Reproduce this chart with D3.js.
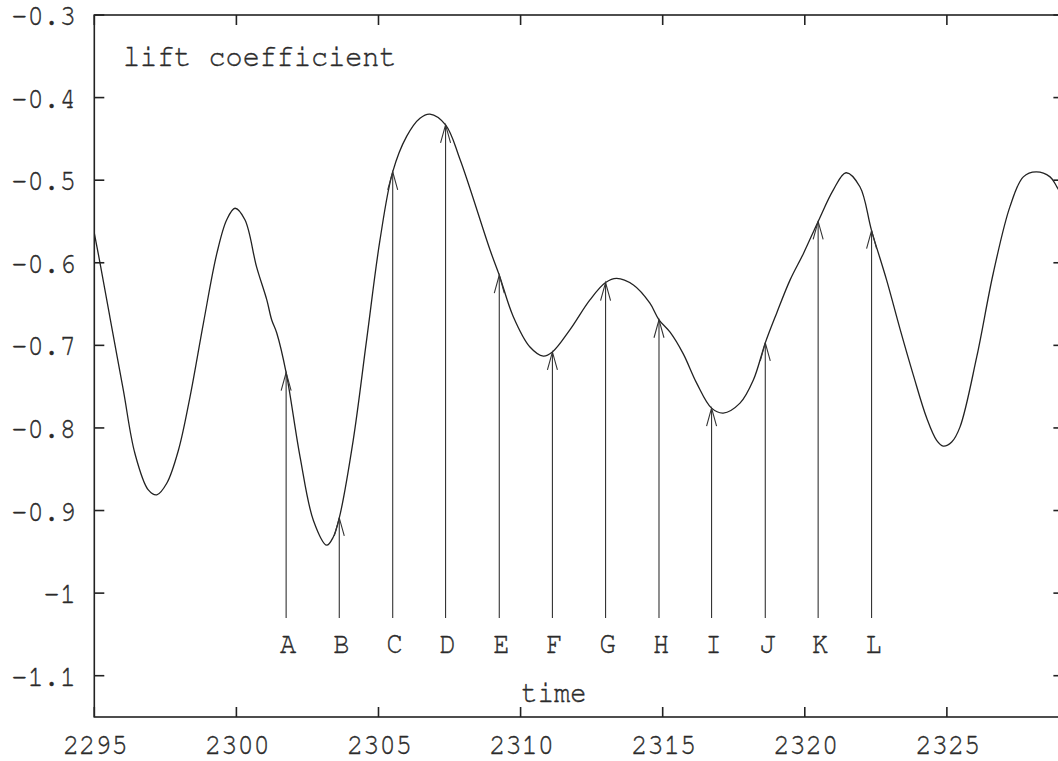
<!DOCTYPE html>
<html>
<head>
<meta charset="utf-8">
<script src="https://cdn.jsdelivr.net/npm/d3@7"></script>
<style>
  html, body { margin: 0; padding: 0; background: #fff; }
  svg { display: block; }
  text {
    font-family: "FreeMono", "Nimbus Mono PS", "Nimbus Mono L", "Courier", "Liberation Mono", monospace;
    fill: #2a2a2a; stroke: #2a2a2a; stroke-width: 0.35;
  }
</style>
</head>
<body>
<script>
// Lift coefficient time history
const curveTime = [
  2295.0, 2295.2, 2295.55, 2296.02, 2296.43, 2296.9, 2297.2, 2297.55, 2297.96, 2298.37,
  2298.84, 2299.31, 2299.66, 2299.95, 2300.3, 2300.71, 2301.07, 2301.24, 2301.42, 2301.75,
  2302.24, 2302.71, 2303.18, 2303.41, 2303.62, 2304.11, 2304.58, 2305.05, 2305.5, 2305.99,
  2306.46, 2306.81, 2307.36, 2307.87, 2308.92, 2309.25, 2309.74, 2310.33, 2310.8,
  2311.12, 2311.74, 2312.44, 2312.99, 2313.38, 2313.97, 2314.55, 2314.87, 2315.26, 2315.72,
  2316.2, 2316.72, 2317.13, 2317.72, 2318.19, 2318.61, 2319.01, 2319.48, 2319.95, 2320.47,
  2321.0, 2321.45, 2321.94, 2322.35, 2322.88, 2323.35, 2323.82, 2324.29, 2324.64, 2324.87,
  2325.17, 2325.46, 2326.05, 2326.63, 2327.22, 2327.69, 2328.14, 2328.63, 2328.87, 2329.1
];
const curveLift = [
  -0.564, -0.600, -0.666, -0.754, -0.831, -0.875, -0.881, -0.867, -0.827, -0.762,
  -0.673, -0.589, -0.548, -0.534, -0.548, -0.605, -0.645, -0.669, -0.685, -0.733,
  -0.835, -0.912, -0.942, -0.932, -0.909, -0.815, -0.694, -0.573, -0.490, -0.447,
  -0.425, -0.420, -0.433, -0.475, -0.584, -0.615, -0.665, -0.702, -0.713,
  -0.708, -0.681, -0.645, -0.624, -0.619, -0.627, -0.649, -0.669, -0.684, -0.710,
  -0.746, -0.776, -0.782, -0.770, -0.742, -0.697, -0.661, -0.621, -0.589, -0.550,
  -0.512, -0.491, -0.508, -0.561, -0.621, -0.680, -0.736, -0.788, -0.815, -0.822,
  -0.817, -0.799, -0.714, -0.613, -0.532, -0.496, -0.490, -0.496, -0.508, -0.522
];

// Sampling instants marked with arrows
const arrowLabels = ["A", "B", "C", "D", "E", "F", "G", "H", "I", "J", "K", "L"];
const arrowTime = [2301.75, 2303.62, 2305.5, 2307.36, 2309.25, 2311.12,
                   2312.99, 2314.87, 2316.72, 2318.61, 2320.47, 2322.35];
const arrowLift = [-0.733, -0.909, -0.490, -0.433, -0.615, -0.708,
                   -0.624, -0.669, -0.776, -0.697, -0.550, -0.561];
const arrowBase = -1.03;

const xTicks = [2295, 2300, 2305, 2310, 2315, 2320, 2325];
const yTicks = [-0.3, -0.4, -0.5, -0.6, -0.7, -0.8, -0.9, -1, -1.1];
const xDomain = [2295, 2329.1];
const yDomain = [-1.15, -0.3];

const W = 1058, H = 761;
const plotL = 94.3, plotR = 1063.4, plotT = 15, plotB = 717;
const stretch = 1.12; // glyphs are a little taller than wide

const svg = d3.select("body").append("svg")
  .attr("width", W).attr("height", H);

const x = d3.scaleLinear().domain(xDomain).range([plotL, plotR]);
const y = d3.scaleLinear().domain(yDomain).range([plotB, plotT]);

svg.append("defs").append("clipPath").attr("id", "plotClip")
  .append("rect")
  .attr("x", plotL).attr("y", plotT)
  .attr("width", plotR - plotL).attr("height", plotB - plotT);

// Frame with inward ticks on all four sides
const tickLen = 10;
const frame = svg.append("g")
  .attr("stroke", "#222").attr("stroke-width", 1.6).attr("fill", "none");

frame.append("rect")
  .attr("x", plotL).attr("y", plotT)
  .attr("width", plotR - plotL).attr("height", plotB - plotT);

xTicks.forEach(t => {
  frame.append("line").attr("x1", x(t)).attr("x2", x(t))
    .attr("y1", plotB).attr("y2", plotB - tickLen);
  frame.append("line").attr("x1", x(t)).attr("x2", x(t))
    .attr("y1", plotT).attr("y2", plotT + tickLen);
});
yTicks.forEach(v => {
  frame.append("line").attr("x1", plotL).attr("x2", plotL + tickLen)
    .attr("y1", y(v)).attr("y2", y(v));
  frame.append("line").attr("x1", plotR).attr("x2", plotR - tickLen)
    .attr("y1", y(v)).attr("y2", y(v));
});

// Tick labels (drawn at the origin, then moved and stretched)
svg.append("g").selectAll("text").data(xTicks).join("text")
  .attr("transform", d => `translate(${x(d) + 1},754) scale(1,${stretch})`)
  .attr("text-anchor", "middle")
  .attr("font-size", 27)
  .text(d => d);

svg.append("g").selectAll("text").data(yTicks).join("text")
  .attr("transform", d => `translate(76,${y(d) + 10}) scale(1,${stretch})`)
  .attr("text-anchor", "end")
  .attr("font-size", 27)
  .text(d => String(d));

// Curve
const line = d3.line()
  .x((d, i) => x(curveTime[i]))
  .y((d, i) => y(curveLift[i]))
  .curve(d3.curveCatmullRom.alpha(0.5));

svg.append("path")
  .datum(curveTime)
  .attr("clip-path", "url(#plotClip)")
  .attr("d", line)
  .attr("fill", "none")
  .attr("stroke", "#222")
  .attr("stroke-width", 1.3);

// Arrows from the base level up to the curve
const barbLen = 18, barbHalf = 5;
const arrows = svg.append("g")
  .attr("stroke", "#333").attr("stroke-width", 1.1).attr("fill", "none");

arrowTime.forEach((t, i) => {
  const ax = x(t), ay = y(arrowLift[i]), by = y(arrowBase);
  arrows.append("line").attr("x1", ax).attr("x2", ax).attr("y1", by).attr("y2", ay);
  arrows.append("path")
    .attr("d", `M${ax - barbHalf},${ay + barbLen} L${ax},${ay} L${ax + barbHalf},${ay + barbLen}`);
});

svg.append("g").selectAll("text").data(arrowLabels).join("text")
  .attr("transform", (d, i) => `translate(${x(arrowTime[i]) + 2},${y(arrowBase) + 35}) scale(1,${stretch})`)
  .attr("text-anchor", "middle")
  .attr("font-size", 27)
  .text(d => d);

// Titles
svg.append("text")
  .attr("transform", `translate(123,66) scale(1,${stretch})`)
  .attr("font-size", 28.5)
  .text("lift coefficient");

svg.append("text")
  .attr("transform", `translate(554,702) scale(1,${stretch})`)
  .attr("text-anchor", "middle")
  .attr("font-size", 27)
  .text("time");
</script>
</body>
</html>
